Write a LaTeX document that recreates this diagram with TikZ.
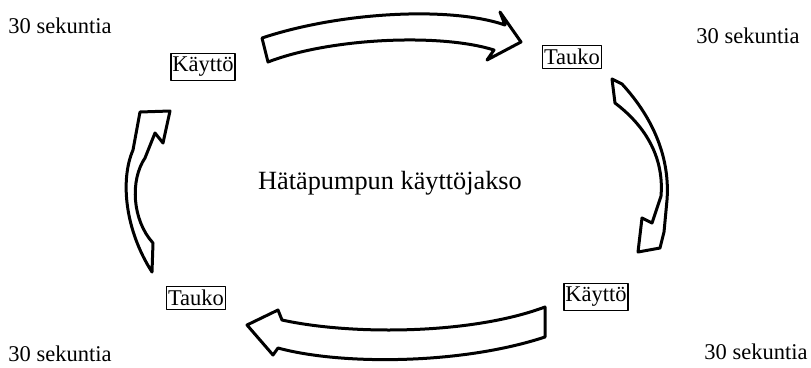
\documentclass[tikz,border=0pt]{standalone}
\usepackage{fontspec}
\setmainfont{Liberation Serif}
\usetikzlibrary{arrows.meta}

\begin{document}
\begin{tikzpicture}[x=1pt, y=-1pt, line join=round,
    phase/.style={draw, line width=1.5pt, inner xsep=1.5pt, inner ysep=3.5pt, font=\fontsize{22.5}{24}\selectfont},
    timing/.style={font=\fontsize{22.5}{24}\selectfont},
    loop/.style={draw, fill=white, line width=3pt}]
  \useasboundingbox (0,0) rectangle (811,367);

  % --- otsikko ---
  \node[font=\fontsize{26.3}{28}\selectfont] (title) at (390,183) {Hätäpumpun käyttöjakso};

  % --- vaiheet ---
  \node[phase] (run1) at (203,67) {Käyttö};
  \node[phase] (rest1) at (572,57) {Tauko};
  \node[phase] (run2) at (596,297) {Käyttö};
  \node[phase] (rest2) at (196,298) {Tauko};

  % --- ajat ---
  \node[timing] (t1) at (60,26) {30 sekuntia};
  \node[timing] (t2) at (748,36) {30 sekuntia};
  \node[timing] (t3) at (756,352) {30 sekuntia};
  \node[timing] (t4) at (60,354) {30 sekuntia};

  % --- nuolet ---
  % ylhäällä: Käyttö -> Tauko
  \draw[loop] (262,38) .. controls (340,12) and (450,6) .. (505,25)
    -- (500,12) -- (521,42) -- (487,60) -- (494,50)
    .. controls (440,33) and (330,38) .. (268,62) -- cycle;
  % oikealla: Tauko -> Käyttö
  \draw[loop] (622,84) .. controls (655,120) and (670,160) .. (667,200)
    -- (664,232) -- (660,248) -- (638,252) -- (642,218) -- (652,223)
    -- (661,196) .. controls (664,160) and (648,128) .. (615,103)
    -- (612,79) -- cycle;
  % alhaalla: Käyttö -> Tauko
  \draw[loop] (545,307) .. controls (470,335) and (350,335) .. (282,320)
    -- (278,310) -- (247,325) -- (273,355) -- (278,348)
    .. controls (340,365) and (460,365) .. (545,337) -- cycle;
  % vasemmalla: Tauko -> Käyttö
  \draw[loop] (152,272) .. controls (125,230) and (120,180) .. (133,150)
    -- (140,112) -- (170,111) -- (163,143) -- (155,133)
    -- (145,158) .. controls (130,180) and (132,220) .. (153,243) -- cycle;
\end{tikzpicture}
\end{document}
